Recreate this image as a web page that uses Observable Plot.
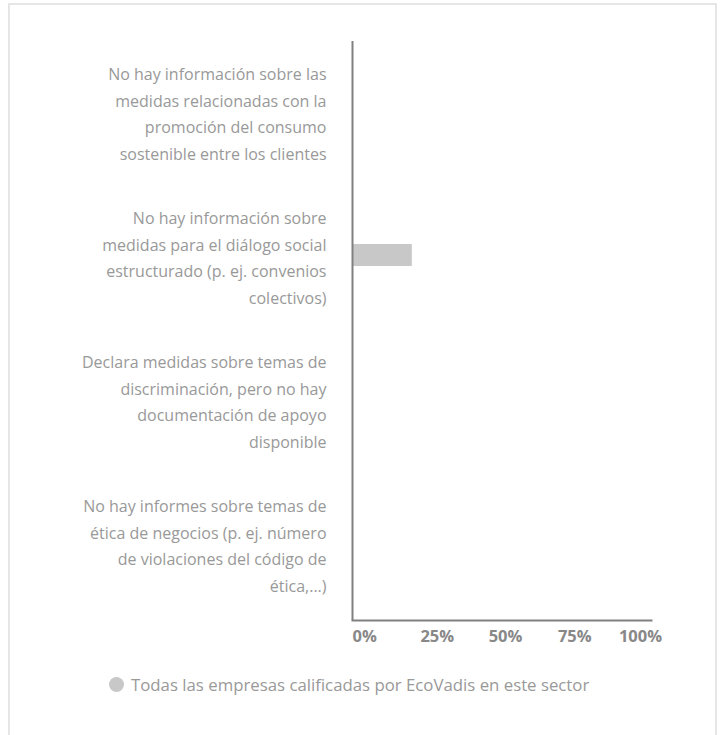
<!DOCTYPE html>
<html>
<head>
<meta charset="utf-8">
<script src="https://cdn.jsdelivr.net/npm/d3@7"></script>
<script src="https://cdn.jsdelivr.net/npm/@observablehq/plot@0.6"></script>
<style>
  html, body { margin: 0; padding: 0; background: #fff; }
  body { width: 725px; height: 735px; position: relative; overflow: hidden; font-family: "Open Sans", sans-serif; }
  #frame { position: absolute; left: 8px; top: 3px; width: 705px; height: 760px; border: 2px solid #e6e6e6; box-sizing: content-box; }
  #chart { position: absolute; left: 0; top: 0; }
  #legend { position: absolute; left: 109px; top: 673px; display: flex; align-items: center; gap: 7px; color: #999; font-size: 16.8px; }
  #legend .dot { width: 15px; height: 15px; border-radius: 50%; background: #c8c8c8; }
</style>
</head>
<body>
<div id="frame"></div>
<div id="chart"></div>
<div id="legend"></div>
<script>
const categories = [
  "No hay información sobre las\nmedidas relacionadas con la\npromoción del consumo\nsostenible entre los clientes",
  "No hay información sobre\nmedidas para el diálogo social\nestructurado (p. ej. convenios\ncolectivos)",
  "Declara medidas sobre temas de\ndiscriminación, pero no hay\ndocumentación de apoyo\ndisponible",
  "No hay informes sobre temas de\nética de negocios (p. ej. número\nde violaciones del código de\nética,...)"
];
const values = [0, 20, 0, 0];
const xTicks = [0, 25, 50, 75, 100];
const seriesName = "Todas las empresas calificadas por EcoVadis en este sector";

const data = categories.map((c, i) => ({category: c, value: values[i]}));

// per-tick label nudges (the original spreads labels evenly inside the axis)
const tickNudge = [0, 10, 3.5, -2, -11];
const tickAxes = xTicks.map((t, i) => Plot.axisX([t], {
  tickSize: 0, tickPadding: 10, fontSize: 16.5, fontWeight: "bold", fill: "#888",
  textAnchor: i === 0 ? "start" : "middle", dx: tickNudge[i],
  tickFormat: d => d + "%", label: null
}));

const chart = Plot.plot({
  width: 725,
  height: 650,
  marginLeft: 352,
  marginRight: 74,
  marginTop: 41,
  marginBottom: 30,
  style: {fontFamily: "Open Sans", background: "transparent", overflow: "visible"},
  x: {domain: [0, 100]},
  y: {domain: categories, range: [37, 616], paddingInner: 0.85, paddingOuter: 0.425},
  marks: [
    Plot.barX(data.filter(d => d.value > 0), {x: "value", y: "category", fill: "#c8c8c8"}),
    Plot.axisY({tickSize: 0, tickPadding: 26, fontSize: 16, fill: "#999", lineHeight: 1.67, textAnchor: "end", label: null}),
    ...tickAxes,
    Plot.ruleX([0], {stroke: "#808080", strokeWidth: 2}),
    Plot.frame({anchor: "bottom", stroke: "#808080", strokeWidth: 2})
  ]
});
document.getElementById("chart").appendChild(chart);

const legend = document.getElementById("legend");
legend.innerHTML = `<span class="dot"></span><span></span>`;
legend.lastChild.textContent = seriesName;
</script>
</body>
</html>
